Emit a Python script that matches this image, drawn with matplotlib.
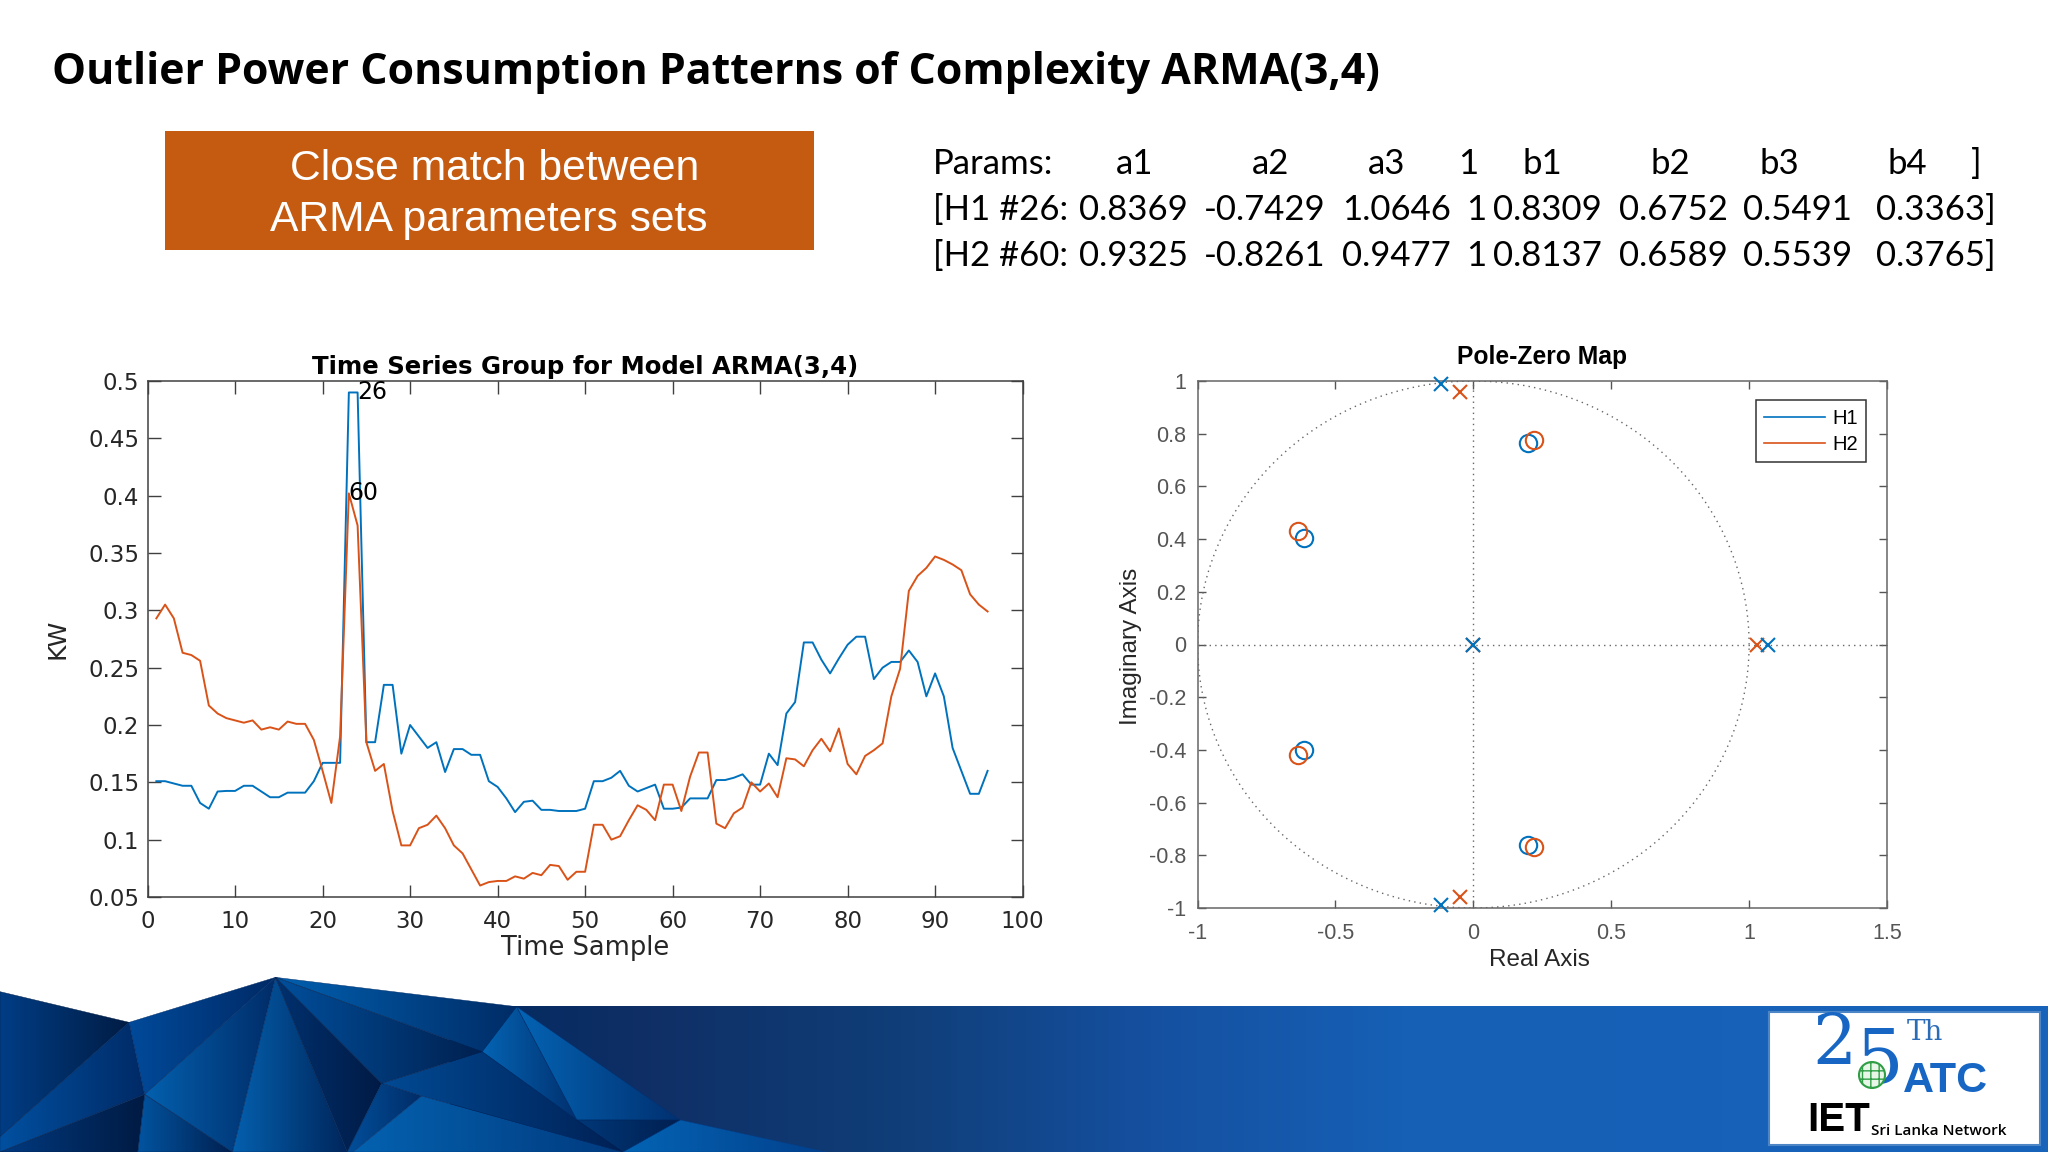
import numpy as np
import matplotlib
matplotlib.use("Agg")
import matplotlib.pyplot as plt
from matplotlib.patches import Polygon, Rectangle, Circle
from matplotlib.lines import Line2D
from matplotlib.colors import to_rgb

# ---------- data ----------
h1_kw = [.151,.151,.149,.147,.147,.132,.127,.142,.1425,.1425,.147,.147,.142,.137,.137,.141,.141,.141,.151,.167,
         .167,.167,.49,.49,.185,.185,.235,.235,.175,.2,.19,.18,.185,.159,.179,.179,.174,.174,.151,.146,
         .136,.124,.133,.134,.126,.126,.125,.125,.125,.127,.151,.151,.154,.16,.147,.142,.145,.148,.127,.127,
         .128,.136,.136,.136,.152,.152,.154,.157,.148,.148,.175,.165,.21,.22,.272,.272,.257,.245,.258,.27,
         .277,.277,.24,.25,.255,.255,.265,.255,.225,.245,.225,.18,.16,.14,.14,.16]
h2_kw = [.293,.305,.293,.263,.261,.256,.217,.21,.206,.204,.202,.204,.196,.198,.196,.203,.201,.201,.187,.16,
         .132,.19,.402,.374,.185,.16,.166,.125,.095,.095,.11,.113,.121,.11,.095,.088,.074,.06,.063,.064,
         .064,.068,.066,.071,.069,.078,.077,.065,.072,.072,.113,.113,.1,.103,.117,.13,.126,.117,.148,.148,
         .125,.155,.176,.176,.114,.11,.123,.128,.15,.142,.149,.137,.171,.17,.164,.178,.188,.177,.197,.166,
         .157,.173,.178,.184,.225,.249,.317,.33,.337,.347,.344,.34,.335,.314,.305,.299]
time_sample = list(range(1, 97))
ts_xticks = [0,10,20,30,40,50,60,70,80,90,100]
ts_yticks = [.05,.1,.15,.2,.25,.3,.35,.4,.45,.5]
ts_ylabels = ['0.05','0.1','0.15','0.2','0.25','0.3','0.35','0.4','0.45','0.5']

h1_pole_re = [0, -.118, -.118, 1.07]
h1_pole_im = [0, .99, -.99, 0]
h2_pole_re = [0, -.047, -.047, 1.03]
h2_pole_im = [0, .96, -.96, 0]
h1_zero_re = [-.615, -.615, .197, .197]
h1_zero_im = [.405, -.40, .765, -.76]
h2_zero_re = [-.635, -.635, .22, .22]
h2_zero_im = [.43, -.42, .775, -.77]
pz_xticks = [-1,-.5,0,.5,1,1.5]
pz_xlabels = ['-1','-0.5','0','0.5','1','1.5']
pz_yticks = [-1,-.8,-.6,-.4,-.2,0,.2,.4,.6,.8,1]
pz_ylabels = ['-1','-0.8','-0.6','-0.4','-0.2','0','0.2','0.4','0.6','0.8','1']

header_columns = [869, 973, 1062, 1124, 1181, 1279, 1362, 1460]
value_columns = [868, 968, 1069, 1130, 1185, 1281, 1376, 1482]
param_header = ['a1','a2','a3','1','b1','b2','b3','b4']
param_h1 = ['0.8369','-0.7429','1.0646','1','0.8309','0.6752','0.5491','0.3363]']
param_h2 = ['0.9325','-0.8261','0.9477','1','0.8137','0.6589','0.5539','0.3765]']

BLUE = '#0072BD'
ORANGE = '#D95319'
W, H = 2048, 1152
fig = plt.figure(figsize=(W/100, H/100), dpi=100, facecolor='white')

# ---------- page furniture in pixel coordinates ----------
bg = fig.add_axes([0, 0, 1, 1], zorder=0)
bg.set_xlim(0, W); bg.set_ylim(H, 0); bg.axis('off')

def grad_image(stops, x0, x1, y0, y1, zorder, clip=None):
    xs = np.linspace(x0, x1, 256)
    px = [s[0] for s in stops]
    cols = np.array([to_rgb(s[1]) for s in stops])
    img = np.stack([np.interp(xs, px, cols[:, i]) for i in range(3)], axis=-1)[None, :, :]
    im = bg.imshow(img, extent=(x0, x1, y1, y0), aspect='auto', zorder=zorder, interpolation='bilinear')
    if clip is not None:
        im.set_clip_path(clip)

# band
grad_image([(450,'#012a60'),(645,'#0f2f66'),(900,'#103e78'),(1150,'#1550a0'),(1400,'#1660b5'),(2048,'#1864bb')],
           450, W, 1006.5, H, 1)

SX, SY = 900/1568, 1/3
facets = [
    ([(0,95),(225,187),(0,530)], '#003d85', '#001c44'),
    ([(225,187),(252,403),(0,576),(0,530)], '#0050a0', '#002a66'),
    ([(252,403),(240,576),(0,576)], '#013a80', '#001a42'),
    ([(225,187),(480,52),(252,403)], '#004a9a', '#012a66'),
    ([(252,403),(480,52),(405,576)], '#0360ae', '#012c68'),
    ([(252,403),(405,576),(240,576)], '#0254a0', '#001f4f'),
    ([(480,52),(405,576),(605,576)], '#0460ae', '#00265c'),
    ([(480,52),(665,370),(605,576)], '#00316f', '#001a44'),
    ([(480,52),(900,140),(840,275)], '#0060b0', '#012c66'),
    ([(480,52),(840,275),(665,370)], '#004f9c', '#00204f'),
    ([(665,370),(735,408),(615,576),(605,576)], '#014f9b', '#012c66'),
    ([(735,408),(1085,576),(615,576)], '#0462b0', '#013a7e'),
    ([(665,370),(840,275),(1005,480),(1085,576),(735,408)], '#004a94', '#002054'),
    ([(840,275),(900,140),(1005,480)], '#0464b4', '#01306e'),
    ([(900,140),(1185,480),(1005,480)], '#0464b4', '#013070'),
    ([(1005,480),(1185,480),(1085,576)], '#013878', '#001f50'),
    ([(1185,480),(1440,576),(1085,576)], '#0464b4', '#02408c'),
]
for pts, c1, c2 in facets:
    p = np.array(pts, float)
    p[:, 0] *= SX; p[:, 1] = 960 + p[:, 1]*SY
    poly = Polygon(p, closed=True, fc='none', ec='none', transform=bg.transData)
    bg.add_patch(poly)
    grad_image([(p[:,0].min(), c1), (p[:,0].max(), c2)], p[:,0].min(), p[:,0].max()+1, p[:,1].min(), p[:,1].max()+1, 2, clip=poly)
    bg.add_patch(Polygon(p, closed=True, fc='none', ec=c2, lw=0.3, zorder=2.1))
bg.set_xlim(0, W); bg.set_ylim(H, 0)

# logo
bg.add_patch(Rectangle((1769, 1012), 271, 133, fc='white', ec='#4d86c6', lw=1.5, zorder=3))
LB = '#1766c4'
bg.text(1834, 1045, '2', color=LB, family='DejaVu Serif', fontsize=50, ha='center', va='center', zorder=4)
bg.text(1880, 1062, '5', color=LB, family='DejaVu Serif', fontsize=54, ha='center', va='center', zorder=4)
bg.text(1925, 1033, 'Th', color='#2a6cb8', family='DejaVu Serif', fontsize=20, ha='center', va='center', zorder=4)
bg.add_patch(Circle((1872, 1075), 13, fc='#e8f6e8', ec='#2f9e44', lw=1.5, zorder=4, hatch='++'))
bg.text(1945, 1081, 'ATC', color=LB, family='Liberation Sans', weight='bold', fontsize=31, ha='center', va='center', zorder=4)
bg.text(1839, 1120, 'IET', color='black', family='Liberation Sans', weight='bold', fontsize=29, ha='center', va='center', zorder=4)
bg.text(1939, 1131, 'Sri Lanka Network', color='black', family='Open Sans', weight='semibold', fontsize=11, ha='center', va='center', zorder=4)

# heading
bg.text(52, 73, 'Outlier Power Consumption Patterns of Complexity ARMA(3,4)', family='Open Sans',
        weight='bold', fontsize=30.9, color='black', ha='left', va='center', zorder=4)

# callout
bg.add_patch(Rectangle((165, 131), 649, 119, fc='#C55A11', ec='none', zorder=3))
bg.text(495, 169, 'Close match between', family='Liberation Sans', fontsize=30.7, color='white', ha='center', va='center', zorder=4)
bg.text(489, 220, 'ARMA parameters sets', family='Liberation Sans', fontsize=30.7, color='white', ha='center', va='center', zorder=4)

# parameter table
k = 2048/1568
PS = 25
def ptext(x, y, s, ha='center'):
    bg.text(x*k, y, s, family='Lato', fontsize=PS, color='black', ha=ha, va='center', zorder=4)
ptext(714, 164, 'Params:', 'left')
ptext(714, 210, '[H1 #26:', 'left')
ptext(714, 256, '[H2 #60:', 'left')
for cx, s in zip(header_columns, param_header):
    ptext(cx, 164, s)
ptext(1513, 164, ']')
for cx, s1, s2 in zip(value_columns, param_h1, param_h2):
    ptext(cx, 210, s1)
    ptext(cx, 256, s2)

# ---------- time series ----------
def axes_px(l, r, t, b):
    return fig.add_axes([l/W, 1-b/H, (r-l)/W, (b-t)/H], zorder=5, facecolor='white')

ax = axes_px(147.6, 1022.6, 381, 897)
ax.plot(time_sample, h1_kw, color=BLUE, lw=1.4)
ax.plot(time_sample, h2_kw, color=ORANGE, lw=1.4)
ax.set_xlim(0, 100); ax.set_ylim(.05, .5)
ax.set_xticks(ts_xticks); ax.set_yticks(ts_yticks); ax.set_yticklabels(ts_ylabels)
ax.tick_params(direction='in', top=True, right=True, length=9, width=1, color='#404040',
               labelsize=16.5, labelcolor='#262626', pad=6)
ax.tick_params(axis='x', pad=9)
for s in ax.spines.values():
    s.set_color('#404040'); s.set_linewidth(1.1)
ax.set_title('Time Series Group for Model ARMA(3,4)', fontsize=17.6, weight='bold', color='black', pad=5)
ax.set_xlabel('Time Sample', fontsize=18.5, color='#262626', va='center')
ax.xaxis.set_label_coords(0.5, -0.099)
ax.set_ylabel('KW', fontsize=18, color='#262626', va='center')
ax.yaxis.set_label_coords(-0.103, 0.5)
ax.text(24, h1_kw[23], '26', fontsize=17, color='black', va='center', ha='left')
ax.text(23, h2_kw[22], '60', fontsize=17, color='black', va='center', ha='left')

# ---------- pole-zero ----------
GR = '#555555'
az = axes_px(1197.6, 1887, 381, 908)
th = np.linspace(0, 2*np.pi, 400)
az.plot(np.cos(th), np.sin(th), color='#666666', lw=1, ls=(0, (1, 3)))
az.axhline(0, color='#666666', lw=1, ls=(0, (1, 3)))
az.axvline(0, color='#666666', lw=1, ls=(0, (1, 3)))
mk = dict(ls='none', mfc='none', clip_on=False, zorder=6)
az.plot(h2_pole_re, h2_pole_im, marker='x', ms=10, mew=1.5, color=ORANGE, **mk)
az.plot(h1_pole_re, h1_pole_im, marker='x', ms=10, mew=1.5, color=BLUE, **mk)
az.plot(h1_zero_re, h1_zero_im, marker='o', ms=12.5, mew=1.5, color=BLUE, **mk)
az.plot(h2_zero_re, h2_zero_im, marker='o', ms=12.5, mew=1.5, color=ORANGE, **mk)
az.set_xlim(-1, 1.5); az.set_ylim(-1, 1)
az.set_xticks(pz_xticks); az.set_xticklabels(pz_xlabels)
az.set_yticks(pz_yticks); az.set_yticklabels(pz_ylabels)
az.tick_params(direction='in', top=True, right=True, length=6, width=1, color=GR,
               labelsize=15.5, labelcolor=GR, pad=8)
az.tick_params(axis='x', pad=11)
for lab in az.get_xticklabels()+az.get_yticklabels():
    lab.set_family('Liberation Sans')
for s in az.spines.values():
    s.set_color('#666666'); s.set_linewidth(1.1)
az.set_title('Pole-Zero Map', fontsize=17.7, weight='bold', family='Liberation Sans', color='black', pad=12)
az.set_xlabel('Real Axis', fontsize=17.5, family='Liberation Sans', color='#262626', va='center')
az.xaxis.set_label_coords(0.496, -0.0995)
az.set_ylabel('Imaginary Axis', fontsize=17.5, family='Liberation Sans', color='#262626', va='center')
az.yaxis.set_label_coords(-0.0965, 0.497)
leg = az.legend([Line2D([], [], color=BLUE, lw=1.2), Line2D([], [], color=ORANGE, lw=1.2)], ['H1', 'H2'],
                loc='upper right', bbox_to_anchor=(0.97, 0.963), borderaxespad=0, handlelength=3.0,
                fancybox=False, edgecolor='#333333', framealpha=1, labelspacing=0.35, borderpad=0.4,
                handletextpad=0.4, prop={'family': 'Liberation Sans', 'size': 14.5})
leg.get_frame().set_linewidth(1.1)

fig.savefig('out.png', dpi=100)
